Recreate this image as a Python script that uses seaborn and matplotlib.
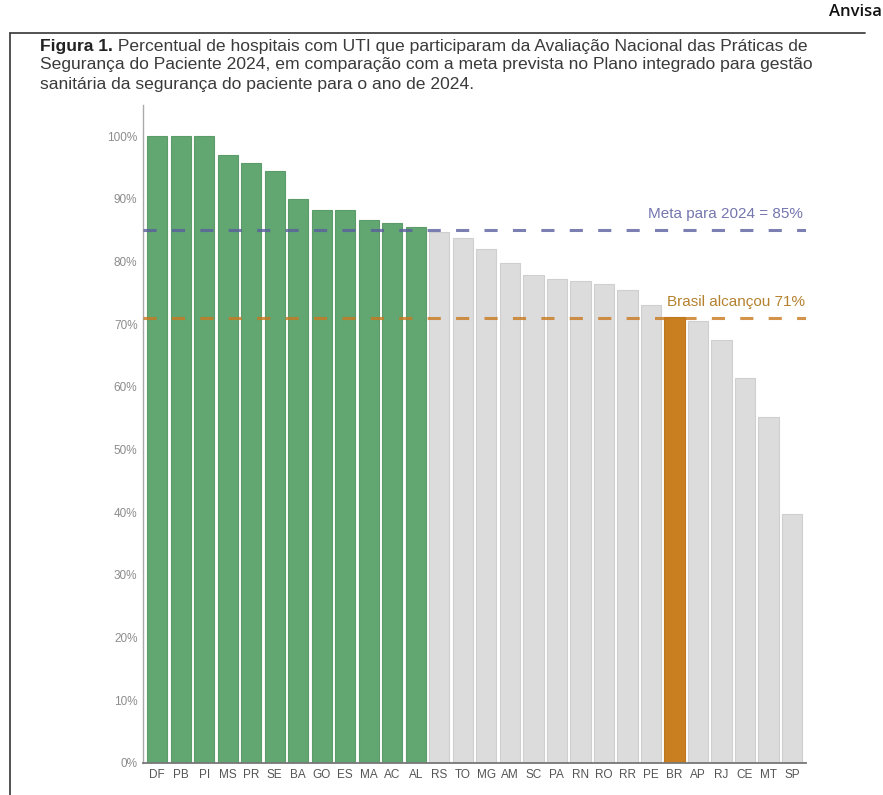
"""Percentual de hospitais com UTI na Avaliação Nacional 2024 (Anvisa, Figura 1)."""
import matplotlib

matplotlib.use("Agg")
import matplotlib.pyplot as plt
import matplotlib.colors as mcolors
from matplotlib.lines import Line2D
import pandas as pd
import seaborn as sns

# dados
estados = ["DF", "PB", "PI", "MS", "PR", "SE", "BA", "GO", "ES", "MA", "AC", "AL",
           "RS", "TO", "MG", "AM", "SC", "PA", "RN", "RO", "RR", "PE", "BR", "AP",
           "RJ", "CE", "MT", "SP"]
percentual = [100, 100, 100, 97.0, 95.8, 94.5, 90.0, 88.3, 88.3, 86.7, 86.2, 85.6,
              84.8, 83.8, 82.0, 79.8, 77.8, 77.2, 76.9, 76.4, 75.4, 73.1, 71.2, 70.5,
              67.5, 61.4, 55.2, 39.8]
meta = 85
brasil = 71

cores = {"acima": "#62a672", "abaixo": "#dcdcdc", "Brasil": "#c97f1f"}

df = pd.DataFrame({"estado": estados, "pct": percentual})
df["grupo"] = ["Brasil" if e == "BR" else ("acima" if v >= meta else "abaixo")
               for e, v in zip(df["estado"], df["pct"])]

sns.set_style("white")
plt.rcParams["font.family"] = ["Liberation Sans", "DejaVu Sans"]

fig = plt.figure(figsize=(8.83, 7.95), dpi=100)
ax = fig.add_axes([0.162, 0.0403, 0.751, 0.8277])

sns.barplot(data=df, x="estado", y="pct", hue="grupo", palette=cores, saturation=1,
            dodge=False, width=0.86, legend=False, ax=ax, order=estados)
for p in ax.patches:
    fc = mcolors.to_rgb(p.get_facecolor())
    p.set_edgecolor(tuple(c * 0.94 for c in fc))
    p.set_linewidth(0.8)

ax.axhline(meta, color="#5b5f9e", lw=2.2, dashes=(4.3, 5), alpha=0.8, zorder=5)
ax.axhline(brasil, color="#c8781e", lw=2.2, dashes=(4.3, 5), alpha=0.8, zorder=5)
ax.text(27.45, meta + 1.5, "Meta para 2024 = 85%", color="#7476ae",
        ha="right", va="bottom", fontsize=11)
ax.text(27.55, brasil + 1.5, "Brasil alcançou 71%", color="#b5812f",
        ha="right", va="bottom", fontsize=11)

ax.set_xlim(-0.6, 27.6)
ax.set_ylim(0, 105)
ax.set_yticks(range(0, 101, 10))
ax.set_yticklabels([f"{t}%" for t in range(0, 101, 10)])
ax.set_xlabel("")
ax.set_ylabel("")
ax.tick_params(axis="y", labelsize=8.5, colors="#8c8c8c", length=3, width=0.8, pad=1)
ax.tick_params(axis="x", labelsize=8.5, labelcolor="#555555", length=0, pad=4)
for s in ("top", "right"):
    ax.spines[s].set_visible(False)
ax.spines["left"].set_color("#aaaaaa")
ax.spines["left"].set_linewidth(1.0)
ax.spines["bottom"].set_color("#777777")
ax.spines["bottom"].set_linewidth(1.3)

# moldura e cabeçalho
fig.add_artist(Line2D([10 / 883, 865 / 883], [1 - 33 / 795] * 2, color="#444444", lw=1.3))
fig.add_artist(Line2D([10 / 883] * 2, [0, 1 - 33 / 795], color="#444444", lw=1.3))
fig.text(0.999, 1 - 12 / 795, "Anvisa", ha="right", va="center", fontsize=12,
         family=["Open Sans", "DejaVu Sans"], weight="semibold", color="#111111")

fs = 12.6
tx, ty = 40 / 883, 1 - 46 / 795
t1 = fig.text(tx, ty, "Figura 1.", weight="bold", fontsize=fs, color="#222222",
              va="center")
ax.annotate(" Percentual de hospitais com UTI que participaram da Avaliação Nacional das Práticas de",
            xy=(1, 0), xycoords=t1, va="bottom", fontsize=fs, color="#3a3a3a",
            annotation_clip=False)
fig.text(tx, ty - 19 / 795,
         "Segurança do Paciente 2024, em comparação com a meta prevista no Plano integrado para gestão",
         fontsize=fs, color="#3a3a3a", va="center")
fig.text(tx, ty - 38.5 / 795, "sanitária da segurança do paciente para o ano de 2024.",
         fontsize=fs, color="#3a3a3a", va="center")

fig.savefig("out.png", dpi=100)
